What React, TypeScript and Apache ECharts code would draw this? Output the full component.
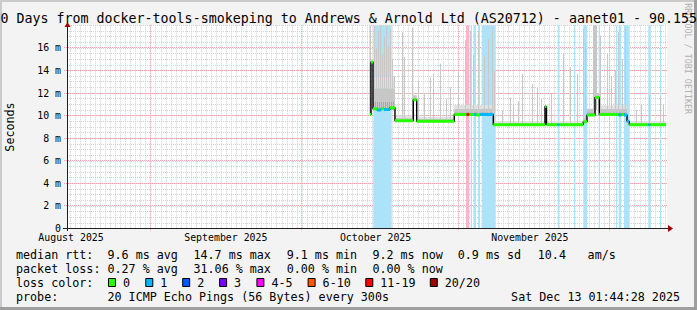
import React, { useEffect, useRef } from 'react';
import * as echarts from 'echarts';

// ---------- data ----------
const monthLabels = ['August 2025', 'September 2025', 'October 2025', 'November 2025'];
const monthLabelDays = [1.2, 31.9, 61.6, 92.2];
const monthStartDays = [17, 47, 78, 108];
const yMajorValues = [2, 4, 6, 8, 10, 12, 14, 16];

const lossColors = ['#26ff00', '#00b8ff', '#0059ff', '#7e00ff', '#ff00ff', '#ff5500', '#ff0000', '#a10000'];
const lossLabels = ['0', '1', '2', '3', '4-5', '6-10', '11-19', '20/20'];
const lossBandColors = ['#c9ffbf', '#ade3f8', '#b0c8ff', '#d0b0ff', '#ffb0ff', '#ffc8b0', '#ffb3c6', '#e0a8a8'];

// [startDay, endDay, median ms, loss index]
const medianSegments = [
  [60.5, 60.69, 10.1, 0],
  [60.69, 61.09, 14.75, 0],
  [61.09, 61.88, 10.6, 0],
  [61.88, 62.68, 10.5, 1],
  [62.68, 63.27, 10.6, 0],
  [63.27, 64.46, 10.55, 1],
  [64.46, 65.45, 10.7, 0],
  [65.45, 69.08, 9.55, 0],
  [69.08, 69.76, 11.4, 0],
  [69.76, 77.21, 9.5, 0],
  [77.21, 79.67, 10.1, 0],
  [79.67, 80.19, 10.1, 6],
  [80.19, 81.12, 10.1, 0],
  [81.12, 81.52, 10.1, 1],
  [81.52, 82.31, 10.05, 0],
  [82.31, 84.95, 10.1, 1],
  [84.95, 95.2, 9.2, 0],
  [95.2, 95.5, 10.8, 0],
  [95.5, 97.72, 9.2, 0],
  [97.72, 98.04, 9.2, 1],
  [98.04, 102.8, 9.2, 0],
  [102.8, 103.53, 9.45, 0],
  [103.53, 105.12, 10.05, 0],
  [105.12, 105.97, 11.6, 0],
  [105.97, 109.82, 10.1, 0],
  [109.82, 110.34, 10.05, 1],
  [110.34, 110.87, 10.1, 0],
  [110.87, 111.47, 10.05, 1],
  [111.47, 111.92, 9.5, 1],
  [111.92, 115.69, 9.2, 0],
  [115.69, 116.09, 9.2, 1],
  [116.09, 119.2, 9.2, 0],
];

// [startDay, endDay, loss index]
const lossBands = [
  [61.15, 64.8, 1],
  [79.54, 80.19, 6],
  [80.47, 80.73, 1],
  [81.12, 81.52, 1],
  [81.92, 82.31, 1],
  [82.65, 85.43, 1],
  [97.72, 97.98, 1],
  [100.96, 101.21, 1],
  [102.8, 103.59, 1],
  [105.85, 106.11, 1],
  [109.29, 109.54, 1],
  [109.82, 110.34, 1],
  [110.87, 111.92, 1],
  [115.69, 116.17, 1],
  [118.01, 118.27, 1],
];

// [startDay, endDay, low ms, high ms, shade]
const smokeBands = [
  [60.4, 60.69, 10.1, 14.7, 0],
  [60.4, 60.69, 14.7, 18, 1],
  [61.09, 65.45, 10.5, 11.2, 0],
  [61.09, 65.45, 11.2, 12.4, 1],
  [61.09, 65.45, 12.4, 13.4, 2],
  [65.45, 69.08, 9.55, 9.8, 1],
  [65.45, 69.08, 9.8, 10.0, 2],
  [69.08, 69.76, 11.4, 11.8, 1],
  [69.76, 77.21, 9.5, 9.7, 1],
  [69.76, 77.21, 9.7, 9.9, 2],
  [77.21, 84.95, 10.1, 10.3, 0],
  [77.21, 84.95, 10.3, 10.6, 1],
  [77.21, 84.95, 10.6, 10.95, 2],
  [84.95, 95.2, 9.2, 9.36, 1],
  [84.95, 95.2, 9.36, 9.52, 2],
  [95.5, 102.8, 9.2, 9.36, 1],
  [95.5, 102.8, 9.36, 9.52, 2],
  [102.8, 103.53, 9.45, 9.8, 1],
  [103.53, 105.12, 10.05, 10.3, 0],
  [103.53, 105.12, 10.3, 10.6, 1],
  [104.72, 105.52, 10.5, 18, 1],
  [105.12, 105.97, 11.6, 12.0, 1],
  [105.97, 111.47, 10.1, 10.3, 0],
  [105.97, 111.47, 10.3, 10.6, 1],
  [105.97, 111.47, 10.6, 10.9, 2],
  [111.92, 119.2, 9.2, 9.36, 1],
  [111.92, 119.2, 9.36, 9.52, 2],
];

// [day, top ms]
const spikes = [
  [61.29, 17.9], [61.68, 16.0], [62.08, 17.5], [62.48, 18], [62.88, 15.5], [63.27, 17.0],
  [63.67, 18], [64.07, 16.2], [64.46, 17.6], [64.86, 15.0], [65.26, 13.5],
  [66.78, 17.4], [67.3, 15.2], [68.77, 17.8], [70.02, 13.1], [71.21, 12.0], [72.4, 13.4],
  [73.05, 13.7], [74.38, 14.6], [75.57, 11.5], [76.36, 12.5],
  [77.95, 14.0], [79.34, 16.7], [80.33, 17.5], [80.92, 15.4], [81.92, 17.5], [83.11, 15.2],
  [83.9, 16.8], [84.63, 17.8], [85.09, 14.0],
  [86.62, 10.45], [88.26, 11.6], [88.86, 11.0], [89.85, 11.3], [90.58, 13.7], [92.57, 12.8],
  [93.56, 12.5], [94.41, 11.5], [96.39, 12.0], [98.83, 15.5], [100.16, 14.3], [101.49, 13.7],
  [102.68, 17.7], [103.14, 16.5], [106.11, 17.1], [107.44, 15.5], [108.29, 13.5], [109.09, 14.0],
  [109.74, 17.4], [110.48, 15.0], [111.07, 17.8], [113.25, 10.5], [114.24, 11.0], [115.83, 11.8],
  [118.01, 11.6], [118.61, 11.0],
];

const rttLegend = ['9.6 ms avg', '14.7 ms max', '9.1 ms min', '9.2 ms now', '0.9 ms sd', '10.4', 'am/s'];
const lossLegend = ['0.27 % avg', '31.06 % max', '0.00 % min', '0.00 % now'];
const probeText = '20 ICMP Echo Pings (56 Bytes) every 300s';
const dateText = 'Sat Dec 13 01:44:28 2025';
const titleText = '0 Days from docker-tools-smokeping to Andrews & Arnold Ltd (AS20712) - aanet01 - 90.155';

// ---------- layout ----------
const FONT = '"DejaVu Sans Mono", monospace';
const X_MIN = 0.4;
const X_MAX = 119.4;
const Y_MAX = 18;
const smokeShades = ['#a8a8a8', '#c6c6c6', '#e0e0e0'];
const spikeColor = '#c8c8c8';
const minorGrid = '#d2d2d2';
const majorGrid = '#f2a4a4';
const colX = [107.5, 193.5, 286.7, 372.4, 457.8, 537.8, 587.6];
const boxX = [108, 145.3, 182.2, 219.1, 256.4, 307.6, 365.3, 429.8];
const rowY = [255, 269, 283, 297];

function medianAt(d: number) {
  for (const s of medianSegments) {
    if (d >= s[0] && d < s[1]) return s[2];
  }
  return null;
}

function txt(x: number, y: number, text: string, size: number, align = 'left', rotation = 0, fill = '#000') {
  return {
    type: 'text',
    x,
    y,
    rotation,
    silent: true,
    z: 10,
    style: {
      text,
      font: `${size}px ${FONT}`,
      fill,
      textAlign: align,
      align,
      textVerticalAlign: 'middle',
      verticalAlign: 'middle',
    },
  };
}

function buildOption() {
  const medianLine: number[][] = [];
  medianSegments.forEach((s) => {
    medianLine.push([s[0], s[2]]);
    medianLine.push([s[1], s[2]]);
  });

  const graphic: any[] = [];
  graphic.push({ type: 'rect', shape: { x: 0, y: 0, width: 697, height: 2 }, style: { fill: '#cbcbcb' }, silent: true });
  graphic.push({ type: 'rect', shape: { x: 0, y: 0, width: 2, height: 310 }, style: { fill: '#cbcbcb' }, silent: true });
  graphic.push({ type: 'rect', shape: { x: 694, y: 0, width: 3, height: 310 }, style: { fill: '#9e9e9e' }, silent: true });
  graphic.push({ type: 'rect', shape: { x: 0, y: 307, width: 697, height: 3 }, style: { fill: '#9e9e9e' }, silent: true });
  graphic.push(txt(687.7, 58.7, 'RRDTOOL / TOBI OETIKER', 8.4, 'center', -Math.PI / 2, '#b0b0b0'));
  graphic.push({ type: 'line', shape: { x1: 63, y1: 228.5, x2: 668, y2: 228.5 }, style: { stroke: '#1f1f1f', lineWidth: 1 }, z: 9, silent: true });
  graphic.push({ type: 'line', shape: { x1: 67.5, y1: 231, x2: 67.5, y2: 26 }, style: { stroke: '#1f1f1f', lineWidth: 1 }, z: 9, silent: true });
  graphic.push({ type: 'polygon', shape: { points: [[668, 225], [673, 228.5], [668, 232]] }, style: { fill: '#a00000' }, z: 9, silent: true });
  graphic.push({ type: 'polygon', shape: { points: [[64.5, 27], [67.5, 22], [70.5, 27]] }, style: { fill: '#a00000' }, z: 9, silent: true });
  graphic.push(txt(0.5, 18.4, titleText, 13.3));
  graphic.push(txt(10, 127, 'Seconds', 11.7, 'center', Math.PI / 2));
  graphic.push(txt(16, rowY[0], 'median rtt:', 11.7));
  rttLegend.forEach((t, i) => graphic.push(txt(colX[i], rowY[0], t, 11.7)));
  graphic.push(txt(16, rowY[1], 'packet loss:', 11.7));
  lossLegend.forEach((t, i) => graphic.push(txt(colX[i], rowY[1], t, 11.7)));
  graphic.push(txt(16, rowY[2], 'loss color:', 11.7));
  lossLabels.forEach((t, i) => {
    graphic.push({
      type: 'rect',
      shape: { x: boxX[i] + 0.5, y: rowY[2] - 4.5, width: 7, height: 8 },
      style: { fill: lossColors[i], stroke: '#000', lineWidth: 1 },
      z: 10,
      silent: true,
    });
    graphic.push(txt(boxX[i] + 15, rowY[2], t, 11.7));
  });
  graphic.push(txt(16, rowY[3], 'probe:', 11.7));
  graphic.push(txt(colX[0], rowY[3], probeText, 11.7));
  graphic.push(txt(680, rowY[3], dateText, 11.7, 'right'));

  return {
    animation: false,
    backgroundColor: '#f3f3f3',
    grid: [
      { left: 67, right: 30, top: 25.3, bottom: 81.5, show: true, backgroundColor: '#ffffff', borderWidth: 0 },
      { left: 67 + (1 - X_MIN) * (600 / (X_MAX - X_MIN)), right: 30 + (X_MAX - 119) * (600 / (X_MAX - X_MIN)), top: 25.3, bottom: 81.5, show: false },
    ],
    xAxis: [
      {
        gridIndex: 0,
        type: 'value',
        min: X_MIN,
        max: X_MAX,
        position: 'bottom',
        axisLine: { show: false },
        axisTick: { show: false },
        splitLine: { show: false },
        axisLabel: {
          customValues: monthLabelDays,
          formatter: (v: number) => {
            const i = monthLabelDays.findIndex((m) => Math.abs(m - v) < 1e-6);
            return i >= 0 ? monthLabels[i] : '';
          },
          fontFamily: FONT,
          fontSize: 9.9,
          color: '#000',
          margin: 4,
        },
      },
      {
        gridIndex: 1,
        type: 'value',
        min: 1,
        max: 119,
        interval: 1,
        axisLine: { show: false },
        axisTick: { show: false },
        axisLabel: { show: false },
        splitLine: { show: true, lineStyle: { color: minorGrid, type: [1, 1], width: 1 } },
      },
    ],
    yAxis: [
      {
        gridIndex: 0,
        type: 'value',
        min: 0,
        max: Y_MAX,
        interval: 2,
        position: 'left',
        axisLine: { show: false },
        axisTick: { show: false },
        splitLine: { show: false },
        axisLabel: {
          formatter: (v: number) => (v === 0 ? '0' : v >= Y_MAX ? '' : `${v} m`),
          fontFamily: FONT,
          fontSize: 9.9,
          color: '#000',
          margin: 6,
        },
      },
      {
        gridIndex: 0,
        type: 'value',
        min: 0,
        max: Y_MAX,
        interval: 0.5,
        position: 'left',
        axisLine: { show: false },
        axisTick: { show: false },
        axisLabel: { show: false },
        splitLine: { show: true, lineStyle: { color: minorGrid, type: [1, 1], width: 1 } },
      },
      { gridIndex: 1, type: 'value', min: 0, max: Y_MAX, show: false },
    ],
    graphic,
    series: [
      {
        type: 'custom',
        name: 'major-v',
        xAxisIndex: 0,
        yAxisIndex: 0,
        silent: true,
        z: 1,
        data: monthStartDays.map((d) => [d, 0]),
        encode: { x: 0, y: 1 },
        renderItem: (params: any, api: any) => {
          const top = api.coord([api.value(0), Y_MAX]);
          const bot = api.coord([api.value(0), 0]);
          const x = Math.floor(top[0]) + 0.5;
          return { type: 'line', shape: { x1: x, y1: top[1], x2: x, y2: bot[1] + 3 }, style: { stroke: majorGrid, lineWidth: 1, lineDash: [1, 1] } };
        },
      },
      {
        type: 'custom',
        name: 'major-h',
        xAxisIndex: 0,
        yAxisIndex: 0,
        silent: true,
        z: 1,
        data: yMajorValues.map((v) => [X_MIN, v]),
        encode: { x: 0, y: 1 },
        renderItem: (params: any, api: any) => {
          const a = api.coord([X_MIN, api.value(1)]);
          const b = api.coord([X_MAX, api.value(1)]);
          const y = Math.floor(a[1]) + 0.5;
          return { type: 'line', shape: { x1: a[0] - 3, y1: y, x2: b[0], y2: y }, style: { stroke: majorGrid, lineWidth: 1, lineDash: [1, 1] } };
        },
      },
      {
        type: 'custom',
        name: 'loss-bands',
        xAxisIndex: 0,
        yAxisIndex: 0,
        silent: true,
        clip: true,
        z: 2,
        data: lossBands,
        encode: { x: [0, 1], y: 2 },
        renderItem: (params: any, api: any) => {
          const a = api.coord([api.value(0), Y_MAX]);
          const b = api.coord([api.value(1), 0]);
          return {
            type: 'rect',
            shape: { x: a[0], y: a[1], width: Math.max(b[0] - a[0], 1), height: b[1] - a[1] },
            style: { fill: lossBandColors[api.value(2)] },
          };
        },
      },
      {
        type: 'custom',
        name: 'smoke',
        xAxisIndex: 0,
        yAxisIndex: 0,
        silent: true,
        clip: true,
        z: 3,
        data: smokeBands,
        encode: { x: [0, 1], y: [2, 3] },
        renderItem: (params: any, api: any) => {
          const a = api.coord([api.value(0), api.value(3)]);
          const b = api.coord([api.value(1), api.value(2)]);
          return {
            type: 'rect',
            shape: { x: a[0], y: a[1], width: Math.max(b[0] - a[0], 1), height: b[1] - a[1] },
            style: { fill: smokeShades[api.value(4)] },
          };
        },
      },
      {
        type: 'custom',
        name: 'spikes',
        xAxisIndex: 0,
        yAxisIndex: 0,
        silent: true,
        clip: true,
        z: 4,
        data: spikes,
        encode: { x: 0, y: 1 },
        renderItem: (params: any, api: any) => {
          const d = api.value(0);
          const m = medianAt(d);
          if (m === null) return null;
          const top = api.coord([d, api.value(1)]);
          const bot = api.coord([d, m]);
          const x = Math.round(top[0]) + 0.5;
          return { type: 'line', shape: { x1: x, y1: top[1], x2: x, y2: bot[1] }, style: { stroke: spikeColor, lineWidth: 1 } };
        },
      },
      {
        type: 'line',
        name: 'median',
        xAxisIndex: 0,
        yAxisIndex: 0,
        silent: true,
        z: 5,
        symbol: 'none',
        data: medianLine,
        lineStyle: { color: '#000000', width: 1.4 },
      },
      {
        type: 'custom',
        name: 'median-loss',
        xAxisIndex: 0,
        yAxisIndex: 0,
        silent: true,
        clip: true,
        z: 6,
        data: medianSegments,
        encode: { x: [0, 1], y: 2 },
        renderItem: (params: any, api: any) => {
          const a = api.coord([api.value(0), api.value(2)]);
          const b = api.coord([api.value(1), api.value(2)]);
          return {
            type: 'rect',
            shape: { x: a[0], y: a[1] - 1.5, width: Math.max(b[0] - a[0], 1), height: 3 },
            style: { fill: lossColors[api.value(3)] },
          };
        },
      },
    ],
  };
}

export default function App() {
  const ref = useRef<HTMLDivElement>(null);
  useEffect(() => {
    const chart = echarts.init(ref.current as HTMLDivElement, null, { renderer: 'svg' });
    chart.setOption(buildOption() as any);
    return () => chart.dispose();
  }, []);
  return <div ref={ref} style={{ position: 'fixed', left: 0, top: 0, width: 697, height: 310 }} />;
}
